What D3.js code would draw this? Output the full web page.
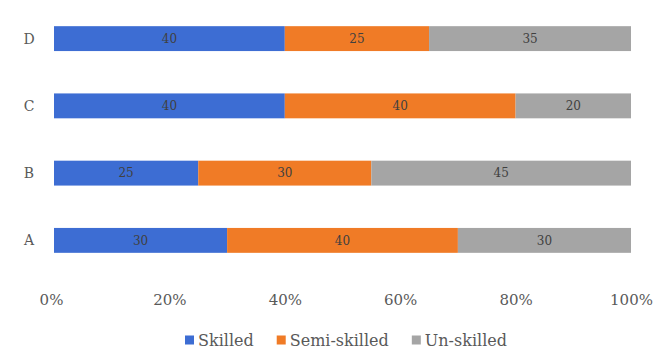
<!DOCTYPE html>
<html><head><meta charset="utf-8">
<script src="https://cdn.jsdelivr.net/npm/d3@7"></script>
<style>body{margin:0;background:#fff}svg{display:block}</style>
</head><body>
<svg id="chart" width="653" height="352"></svg>
<script>
const categories = ["A", "B", "C", "D"];
const seriesNames = ["Skilled", "Semi-skilled", "Un-skilled"];
const skilled = [30, 25, 40, 40];
const semiSkilled = [40, 30, 40, 25];
const unSkilled = [30, 45, 20, 35];
const tickLabels = ["0%", "20%", "40%", "60%", "80%", "100%"];
const colors = ["#3d6dd3", "#f07b26", "#a5a5a5"];

const rows = categories.map((c, i) => ({cat: c, Skilled: skilled[i], "Semi-skilled": semiSkilled[i], "Un-skilled": unSkilled[i]}));
const svg = d3.select("#chart");
const x = d3.scaleLinear().domain([0, 1]).range([54, 631]);
const y = d3.scaleBand().domain(categories.slice().reverse()).range([6, 273]).paddingInner(0.63).paddingOuter(0.3);
const stack = d3.stack().keys(seriesNames).offset(d3.stackOffsetExpand);
const layers = stack(rows);
const font = "DejaVu Serif, serif";

const g = svg.append("g");
layers.forEach((layer, li) => {
  g.selectAll(null).data(layer).enter().append("rect")
    .attr("x", d => x(d[0])).attr("width", d => x(d[1]) - x(d[0]))
    .attr("y", d => y(d.data.cat)).attr("height", y.bandwidth())
    .attr("fill", colors[li]);
  g.selectAll(null).data(layer).enter().append("text")
    .attr("x", d => (x(d[0]) + x(d[1])) / 2)
    .attr("y", d => y(d.data.cat) + y.bandwidth() / 2)
    .attr("dy", "0.35em").attr("text-anchor", "middle")
    .attr("font-family", font).attr("font-size", 12).attr("fill", "#404040")
    .text(d => d.data[layer.key]);
});

// y axis labels
g.selectAll(null).data(categories).enter().append("text")
  .attr("x", 29).attr("y", d => y(d) + y.bandwidth() / 2).attr("dy", "0.35em")
  .attr("text-anchor", "middle").attr("font-family", font).attr("font-size", 14).attr("fill", "#595959")
  .text(d => d);

// x axis
const xAxis = d3.axisBottom(x).tickValues(d3.range(0, 1.01, 0.2)).tickFormat((d, i) => tickLabels[i]).tickSize(0);
const ax = svg.append("g").attr("transform", "translate(0,291)").call(xAxis);
ax.select(".domain").remove();
ax.selectAll("text").attr("font-family", font).attr("font-size", 15).attr("fill", "#595959")
  .attr("x", (d, i) => i === 0 ? -3 : 0);

// legend
const lg = svg.append("g");
let lx = 185;
seriesNames.forEach((n, i) => {
  const item = lg.append("g").attr("transform", `translate(${lx},340)`);
  item.append("rect").attr("x", 0).attr("y", -4.5).attr("width", 9).attr("height", 9).attr("fill", colors[i]);
  const t = item.append("text").attr("x", 13).attr("y", 0).attr("dy", "0.35em")
    .attr("font-family", font).attr("font-size", 16).attr("fill", "#595959").text(n);
  lx += 13 + t.node().getComputedTextLength() + 23;
});
</script>
</body></html>
